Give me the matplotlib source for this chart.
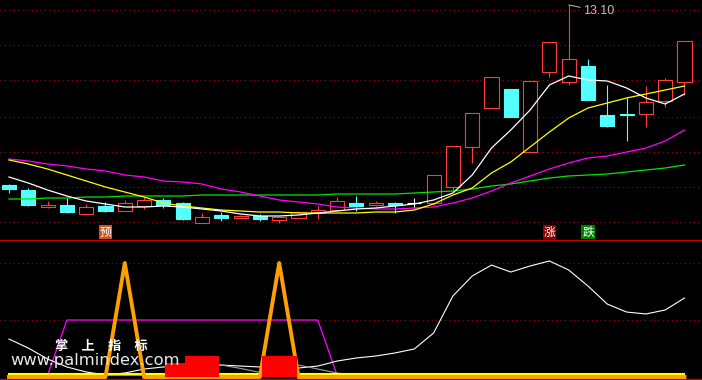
import numpy as np
import matplotlib.pyplot as plt
from matplotlib.patches import Rectangle

plt.rcParams['font.family'] = ['Noto Sans CJK SC', 'DejaVu Sans']

# daily K-line data
opens = [9.50, 9.40, 9.06, 9.10, 8.92, 9.08, 8.98, 9.08, 9.20, 9.14,
         8.74, 8.90, 8.84, 8.88, 8.80, 8.84, 8.94, 9.00, 9.14, 9.10,
         9.14, 9.14, 9.14, 9.46, 10.26, 11.04, 11.42, 10.16, 11.76, 11.56,
         11.88, 10.90, 10.93, 10.92, 11.18, 11.56]
closes = [9.42, 9.10, 9.10, 8.96, 9.06, 8.98, 9.14, 9.20, 9.10, 8.82,
          8.86, 8.84, 8.88, 8.82, 8.86, 8.96, 9.00, 9.18, 9.08, 9.14,
          9.10, 9.14, 9.70, 10.28, 10.94, 11.66, 10.86, 11.58, 12.36, 12.02,
          11.20, 10.68, 10.91, 11.16, 11.60, 12.38]
highs = [9.52, 9.44, 9.18, 9.24, 9.12, 9.16, 9.20, 9.26, 9.24, 9.16,
         8.94, 8.96, 8.90, 8.92, 8.86, 8.98, 9.08, 9.26, 9.28, 9.18,
         9.16, 9.24, 9.70, 10.28, 10.94, 11.66, 11.42, 11.58, 12.36, 13.10,
         12.02, 11.50, 11.24, 11.48, 11.64, 12.38]
lows = [9.34, 9.08, 9.04, 8.94, 8.92, 8.96, 8.98, 9.02, 9.04, 8.80,
        8.74, 8.78, 8.82, 8.78, 8.74, 8.84, 8.82, 8.98, 8.98, 9.08,
        8.94, 9.04, 9.10, 9.36, 9.94, 11.04, 10.86, 10.16, 11.66, 11.50,
        11.20, 10.66, 10.38, 10.66, 11.06, 11.30]

# moving averages
ma_white = [9.66, 9.54, 9.40, 9.28, 9.18, 9.12, 9.06, 9.06, 9.08, 9.06,
            9.02, 8.98, 8.92, 8.88, 8.88, 8.90, 8.94, 8.98, 9.02, 9.04,
            9.08, 9.12, 9.20, 9.34, 9.70, 10.24, 10.60, 11.00, 11.50, 11.68,
            11.60, 11.58, 11.44, 11.24, 11.12, 11.32]
ma_yellow = [10.00, 9.92, 9.82, 9.70, 9.58, 9.46, 9.36, 9.26, 9.14, 9.08,
             9.04, 9.00, 8.98, 8.96, 8.96, 8.94, 8.94, 8.94, 8.94, 8.96,
             8.96, 9.00, 9.12, 9.30, 9.44, 9.74, 9.96, 10.26, 10.56, 10.84,
             11.04, 11.14, 11.24, 11.32, 11.40, 11.48]
ma_magenta = [10.02, 9.98, 9.92, 9.88, 9.82, 9.78, 9.70, 9.66, 9.58, 9.56,
              9.52, 9.42, 9.36, 9.28, 9.20, 9.16, 9.12, 9.06, 9.04, 9.02,
              9.02, 9.04, 9.06, 9.14, 9.24, 9.38, 9.54, 9.68, 9.82, 9.94,
              10.04, 10.08, 10.16, 10.24, 10.38, 10.60]
ma_green = [9.22, 9.22, 9.24, 9.24, 9.26, 9.26, 9.28, 9.28, 9.28, 9.28,
            9.30, 9.30, 9.30, 9.30, 9.30, 9.30, 9.30, 9.32, 9.32, 9.32,
            9.32, 9.34, 9.36, 9.38, 9.42, 9.48, 9.52, 9.58, 9.64, 9.68,
            9.70, 9.72, 9.76, 9.80, 9.84, 9.90]

main_grid = [13.00, 12.30, 11.60, 10.86, 10.16, 9.46, 8.76]
high_label = '13.10'

# signal boxes under the candles
sig_text = ['预', '涨', '跌']
sig_index = [5, 28, 30]
sig_level = 8.56

# lower indicator panel
sub_white = [33.3, 25.4, 15.8, 8.8, 4.4, 1.8, 3.5, 7.0, 8.8, 9.6,
             10.5, 10.5, 9.6, 8.8, 7.9, 7.9, 9.6, 14.0, 16.7, 18.4,
             21.1, 24.6, 38.6, 71.1, 88.6, 98.2, 92.1, 97.4, 101.8, 93.9,
             79.8, 64.0, 57.0, 55.3, 58.8, 69.3]
sub_gray = [1.5, 1.5, 1.5, 1.5, 1.5, 1.5, 1.5, 1.5, 1.5, 4.0,
            8.0, 10.5, 7.5, 4.0, 8.0, 10.5, 7.0, 3.5, 1.5, 1.5,
            1.5, 1.5, 1.5, 1.5, 1.5, 1.5, 1.5, 1.5, 1.5, 1.5,
            1.5, 1.5, 1.5, 1.5, 1.5, 1.5]
sub_magenta = [1.5, 1.5, 1.5, 50, 50, 50, 50, 50, 50, 50,
               50, 50, 50, 50, 50, 50, 50, 1.5, 1.5, 1.5,
               1.5, 1.5, 1.5, 1.5, 1.5, 1.5, 1.5, 1.5, 1.5, 1.5,
               1.5, 1.5, 1.5, 1.5, 1.5, 1.5]
sub_orange = [0, 0, 0, 0, 0, 0, 100, 0, 0, 0,
              0, 0, 0, 0, 100, 0, 0, 0, 0, 0,
              0, 0, 0, 0, 0, 0, 0, 0, 0, 0,
              0, 0, 0, 0, 0, 0]
sub_yellow = [2.8] * 36
sub_bars = [0, 0, 0, 0, 0, 0, 0, 0, 0, 12.3,
            18.4, 0, 0, 0, 18.4, 0, 0, 0, 0, 0,
            0, 0, 0, 0, 0, 0, 0, 0, 0, 0,
            0, 0, 0, 0, 0, 0]
sub_grid = [100, 50]

RED = '#ff3c3c'
CYAN = '#54ffff'
GRID = '#b00000'

fig = plt.figure(figsize=(7.02, 3.80), dpi=100, facecolor='black')
ax = fig.add_axes([0, 140 / 380, 1, 240 / 380], facecolor='black')
ax2 = fig.add_axes([0, 1 / 380, 1, 139 / 380], facecolor='black')

x = np.arange(len(opens))
xlim = (-0.466, 35.907)

# --- candles ---
w = 0.73
for i in x:
    o, c, h, l = opens[i], closes[i], highs[i], lows[i]
    if c > o:
        ax.vlines(i, l, h, color=RED, lw=0.8, zorder=2)
        ax.add_patch(Rectangle((i - w / 2, o), w, c - o, facecolor='black',
                               edgecolor=RED, lw=0.8, zorder=3))
    elif c < o:
        ax.vlines(i, l, h, color=CYAN, lw=0.8, zorder=2)
        ax.add_patch(Rectangle((i - w / 2, c), w, o - c, facecolor=CYAN,
                               edgecolor=CYAN, lw=0.8, zorder=3))
    else:
        ax.vlines(i, l, h, color='white', lw=0.8, zorder=2)
        ax.hlines(o, i - w / 2, i + w / 2, color='white', lw=0.8, zorder=3)

ax.plot(x, ma_green, color='#00e600', lw=0.9, zorder=4)
ax.plot(x, ma_magenta, color='#ff00ff', lw=0.9, zorder=4)
ax.plot(x, ma_yellow, color='#ffff00', lw=0.9, zorder=4)
ax.plot(x, ma_white, color='white', lw=0.9, zorder=4)

for g in main_grid:
    ax.axhline(g, color=GRID, lw=0.8, ls=(0, (1, 3)), zorder=1)

# label at the highest price
top = int(np.argmax(highs))
ax.annotate(high_label, xy=(top, highs[top]), xytext=(top + 0.74, 12.98),
            color='#c0c0c0', fontsize=9, family='Liberation Sans', va='center',
            arrowprops=dict(arrowstyle='-', color='#c0c0c0', lw=0.7,
                            shrinkA=0, shrinkB=0), zorder=5)

sig_colors = {'预': '#c8561e', '涨': '#8b0000', '跌': '#008000'}
for t, i in zip(sig_text, sig_index):
    ax.text(i, sig_level, t, ha='center', va='center', color='white', fontsize=8.5,
            bbox=dict(facecolor=sig_colors[t], edgecolor='none', pad=0.6), zorder=5)

ax.set_xlim(*xlim)
ax.set_ylim(8.40, 13.20)
ax.set_xticks([])
ax.set_yticks([])
for s in ax.spines.values():
    s.set_visible(False)

# --- lower indicator ---
for g in sub_grid:
    ax2.axhline(g, color=GRID, lw=0.8, ls=(0, (1, 3)), zorder=1)
ax2.plot(x, sub_magenta, color='#ff00ff', lw=0.9, zorder=2)
ax2.plot(x, sub_white, color='white', lw=0.8, zorder=2)
ax2.plot(x, sub_gray, color='#a0a0a0', lw=0.8, zorder=2)
ax2.plot(x, sub_yellow, color='#ffff00', lw=1.5, zorder=3)
ax2.plot(x, sub_orange, color='#ffa000', lw=2.8, zorder=3)
ax2.bar(x, sub_bars, width=1.81, color='#ff0000', zorder=4)

ax2.set_xlim(*xlim)
ax2.set_ylim(-1.75, 120.2)
ax2.set_xticks([])
ax2.set_yticks([])
for side in ['left', 'right']:
    ax2.spines[side].set_visible(False)
for side in ['top', 'bottom']:
    ax2.spines[side].set_color('#c00000')
    ax2.spines[side].set_linewidth(1.0)

# watermark
fig.text(55 / 702, 1 - 346 / 380, '掌　上　指　标', color='white', fontsize=9.5,
         fontweight='bold', va='center', ha='left', zorder=10)
fig.text(10 / 702, 1 - 365 / 380, 'www.palmindex.com', color='#e8e8e8', fontsize=11.8,
         family='DejaVu Sans', va='baseline', ha='left', zorder=10)

fig.savefig('out.png', dpi=100, facecolor='black')
